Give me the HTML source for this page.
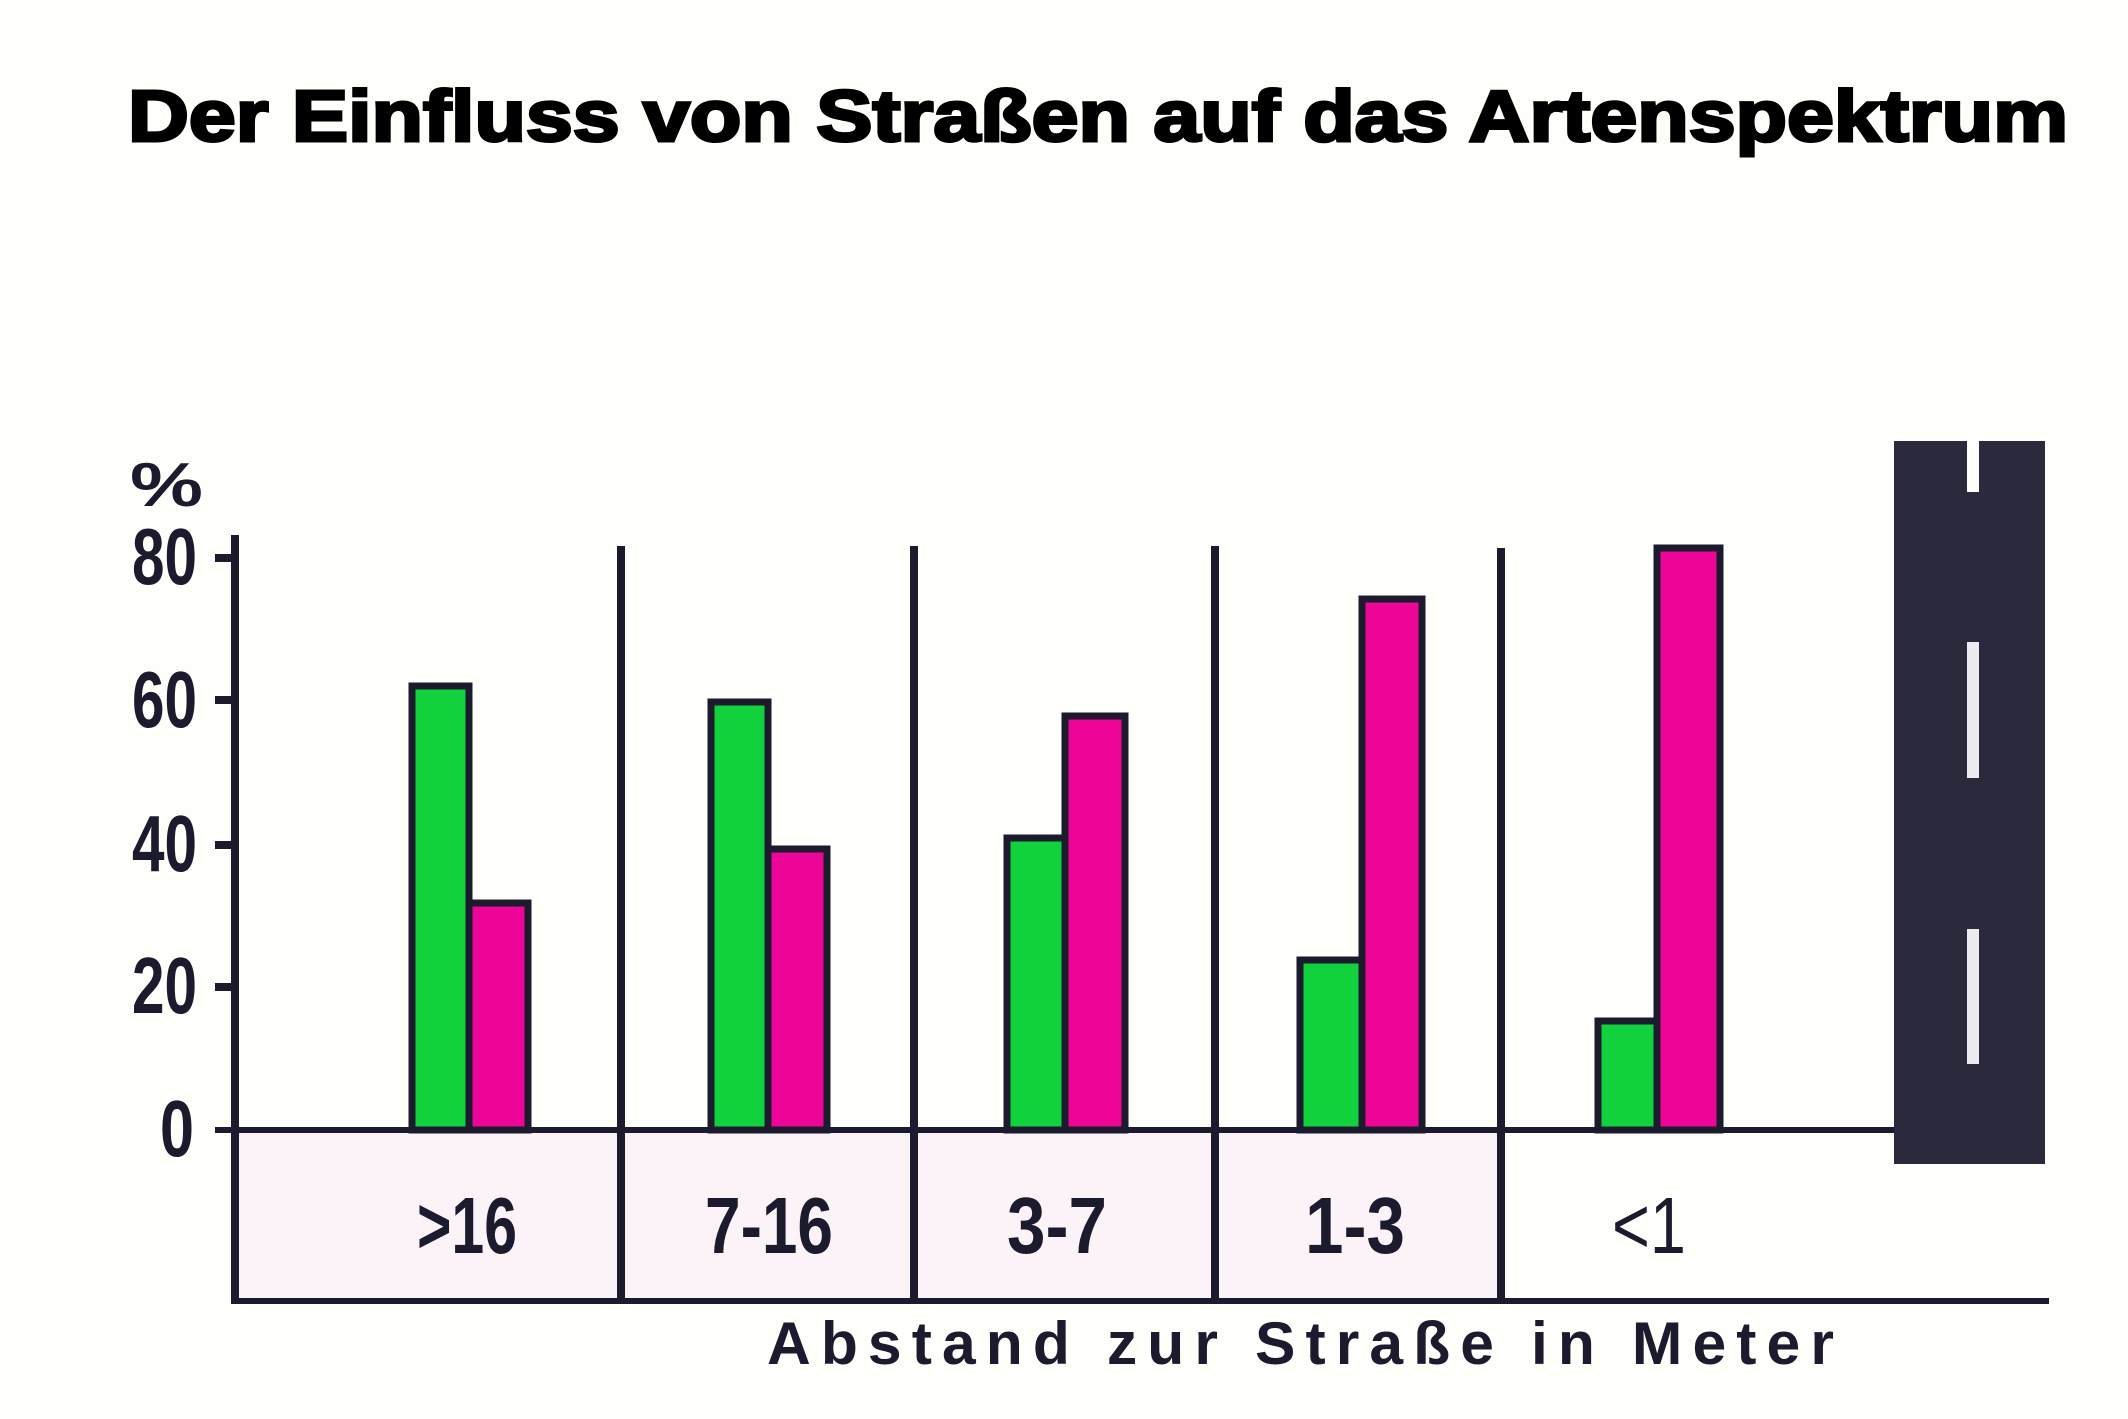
<!DOCTYPE html>
<html><head><meta charset="utf-8"><style>
html,body{margin:0;padding:0;background:#fefefb;}
svg{display:block}
</style></head><body>
<svg width="2128" height="1419" viewBox="0 0 2128 1419" xmlns="http://www.w3.org/2000/svg">
<rect width="2128" height="1419" fill="#fefefb"/>
<text x="128" y="141" font-family="Liberation Sans, sans-serif" font-weight="bold" font-size="72" textLength="1940" lengthAdjust="spacingAndGlyphs" fill="#000" stroke="#000" stroke-width="3">Der Einfluss von Straßen auf das Artenspektrum</text>

<!-- band -->
<rect x="235" y="1130" width="1266" height="171" fill="#fbf3f8"/>
<rect x="1501" y="1130" width="4" height="171" fill="#fefefb"/>

<g stroke="#1c1b2e" stroke-width="8" fill="none">
<line x1="235" y1="535" x2="235" y2="1304"/>
<line x1="621" y1="546" x2="621" y2="1304"/>
<line x1="914" y1="546" x2="914" y2="1304"/>
<line x1="1215" y1="546" x2="1215" y2="1304"/>
<line x1="1501" y1="548" x2="1501" y2="1304"/>
<line x1="215" y1="1130" x2="1900" y2="1130" stroke-width="6"/>
<line x1="232" y1="1301" x2="2049" y2="1301" stroke-width="6"/>
<line x1="215" y1="558" x2="235" y2="558"/>
<line x1="215" y1="700" x2="235" y2="700"/>
<line x1="215" y1="845" x2="235" y2="845"/>
<line x1="215" y1="987" x2="235" y2="987"/>
</g>

<g stroke="#1c1b2e" stroke-width="7">
<rect x="412" y="686" width="57" height="444" fill="#11d23c"/>
<rect x="469" y="903" width="59" height="227" fill="#ec0596"/>
<rect x="711" y="702" width="57" height="428" fill="#11d23c"/>
<rect x="768" y="849" width="59" height="281" fill="#ec0596"/>
<rect x="1007" y="838" width="58" height="292" fill="#11d23c"/>
<rect x="1065" y="716" width="60" height="414" fill="#ec0596"/>
<rect x="1300" y="960" width="62" height="170" fill="#11d23c"/>
<rect x="1362" y="599" width="60" height="531" fill="#ec0596"/>
<rect x="1598" y="1021" width="59" height="109" fill="#11d23c"/>
<rect x="1657" y="548" width="63" height="582" fill="#ec0596"/>
</g>

<!-- road -->
<rect x="1894" y="441" width="151" height="723" fill="#2a2a3c"/>
<rect x="1967" y="441" width="12" height="51" fill="#fefefb"/>
<rect x="1967" y="642" width="12" height="136" fill="#ecebf0"/>
<rect x="1967" y="929" width="12" height="135" fill="#ecebf0"/>

<g font-family="Liberation Sans Narrow, Liberation Sans, sans-serif" font-weight="bold" fill="#1c1b2e" font-size="80">
<text x="130" y="506" font-size="62" textLength="73" lengthAdjust="spacingAndGlyphs">%</text>
<text x="132" y="584" textLength="65" lengthAdjust="spacingAndGlyphs">80</text>
<text x="132" y="727" textLength="65" lengthAdjust="spacingAndGlyphs">60</text>
<text x="132" y="871" textLength="65" lengthAdjust="spacingAndGlyphs">40</text>
<text x="132" y="1013" textLength="65" lengthAdjust="spacingAndGlyphs">20</text>
<text x="160" y="1156" textLength="34" lengthAdjust="spacingAndGlyphs">0</text>
<text x="417" y="1253" textLength="100" lengthAdjust="spacingAndGlyphs">&gt;16</text>
<text x="705" y="1253" textLength="128" lengthAdjust="spacingAndGlyphs">7-16</text>
<text x="1007" y="1253" textLength="100" lengthAdjust="spacingAndGlyphs">3-7</text>
<text x="1305" y="1253" textLength="100" lengthAdjust="spacingAndGlyphs">1-3</text>
<text x="1612" y="1253" font-weight="normal" textLength="74" lengthAdjust="spacingAndGlyphs">&lt;1</text>
</g>
<text x="767" y="1364" font-family="Liberation Sans, sans-serif" font-weight="bold" font-size="60" letter-spacing="10" fill="#1c1b2e" textLength="1077" lengthAdjust="spacingAndGlyphs">Abstand zur Straße in Meter</text>
</svg>
</body></html>
